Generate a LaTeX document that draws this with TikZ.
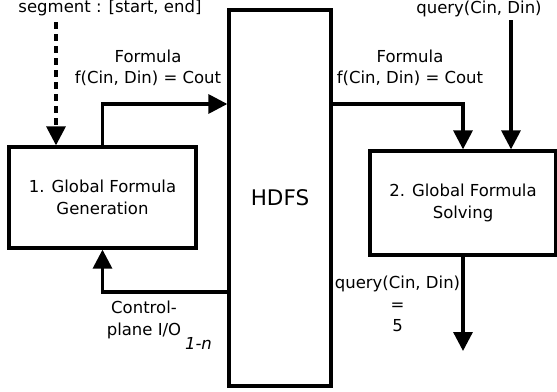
\documentclass[tikz,border=0pt]{standalone}
\usepackage{fontspec}
\setmainfont{DejaVu Sans}
\usetikzlibrary{arrows.meta}
\begin{document}
\begin{tikzpicture}[x=1pt,y=-1pt,
  every node/.style={font=\fontsize{16.5}{21.5}\selectfont, align=center, inner sep=0pt},
  block/.style={draw, line width=3.3pt, inner sep=0pt},
  flow/.style={line width=3.3pt, -{Triangle[length=19pt,width=19pt]}},
  dflow/.style={flow, dash pattern=on 7pt off 5pt}]
\useasboundingbox (0,0) rectangle (557,391);
% processing blocks and storage
\node[block, minimum width=187pt, minimum height=101pt] (gen) at (102.5,197.5) {1. Global Formula\\Generation};
\node[block, minimum width=102pt, minimum height=376pt, font=\fontsize{21.5}{26}\selectfont] (hdfs) at (280,198) {HDFS};
\node[block, minimum width=186pt, minimum height=104pt] (solve) at (463,203) {2. Global Formula\\Solving};
% free ends and bends
\coordinate (segsrc) at (56,22);
\coordinate (qsrc) at (511,20);
\coordinate (fy) at (0,104);
\coordinate (cy) at (0,292);
\coordinate (outend) at (464,351);
% connectors
\draw[dflow] (segsrc) -- (segsrc |- gen.north);
\draw[flow] (gen.north) |- (hdfs.west |- fy);
\draw[flow] (hdfs.east |- fy) -| (solve.north);
\draw[flow] (qsrc) -- (qsrc |- solve.north);
\draw[flow] (hdfs.west |- cy) -| (gen.south);
\draw[flow] (solve.south) -- (solve.south |- outend);
% labels
\node (seglbl) at (110,8) {segment : [start, end]};
\node (qlbl) at (479,9) {query(Cin, Din)};
\node (flbl1) at (148,68) {Formula\\f(Cin, Din) = Cout};
\node (flbl2) at (410,68) {Formula\\f(Cin, Din) = Cout};
\node (ctl) at (144,320) {Control-\\plane I/O};
\node (ctln) at (198.5,343) {\itshape 1-n};
\node (res) at (397.5,304) {query(Cin, Din)\\=\\5};
\end{tikzpicture}
\end{document}
